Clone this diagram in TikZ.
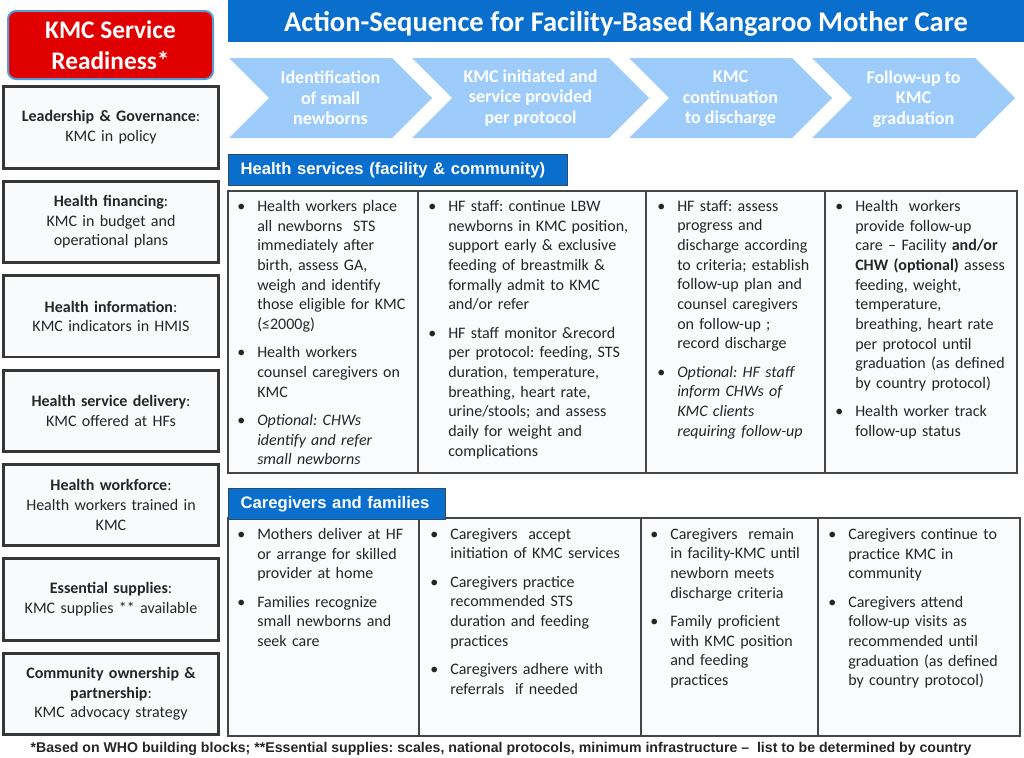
\documentclass[tikz,border=0pt]{standalone}
\usepackage{fontspec}
\setmainfont{Carlito}
\newfontfamily\arialfont{Liberation Sans}
\usetikzlibrary{positioning}
\frenchspacing
\definecolor{kmcblue}{HTML}{0A6FCC}
\definecolor{kmcchev}{HTML}{9DCCFB}
\definecolor{kmcred}{HTML}{E00000}
\definecolor{kmcrim}{HTML}{5B9BD5}
\definecolor{kmcline}{HTML}{363636}
\definecolor{kmcgrid}{HTML}{454545}
\definecolor{kmcpanel}{HTML}{F8FAFB}
\definecolor{kmccell}{HTML}{FAFBFC}
\definecolor{kmctext}{HTML}{262626}
\definecolor{kmchead}{HTML}{2F4A66}
\newcommand{\kmcbullet}{\hangindent=15pt\hangafter=1\noindent\hbox to 15pt{\textbullet\hfil}}
\newcommand{\kmcitem}{\par\kmcbullet}
\tikzset{
  readybox/.style={
    rectangle,
    rounded corners=6pt,
    draw=kmcrim,
    line width=1.5pt,
    fill=kmcred,
    text=white,
    align=center,
    minimum width=153.75pt,
    minimum height=51pt,
    font=\bfseries\fontsize{19}{23.2}\selectfont
  },
  blockbox/.style={
    rectangle,
    draw=kmcline,
    line width=2.2pt,
    fill=kmcpanel,
    align=center,
    text width=155pt,
    minimum width=161pt,
    minimum height=61pt,
    inner sep=0pt,
    text=kmctext,
    font=\fontsize{12}{14.8}\selectfont
  },
  titlebar/.style={
    rectangle,
    fill=kmcblue,
    text=white,
    text depth=0pt,
    minimum width=597pt,
    minimum height=31.5pt,
    font=\bfseries\fontsize{21.4}{25}\selectfont
  },
  stagelabel/.style={text=white, align=center, font=\bfseries\fontsize{13.5}{15.4}\selectfont},
  sectionhead/.style={
    rectangle,
    draw=kmchead,
    line width=0.8pt,
    fill=kmcblue,
    text=white,
    align=left,
    inner xsep=9pt,
    inner ysep=0pt,
    minimum height=23.25pt,
    anchor=north west,
    font=\arialfont\bfseries\fontsize{12.5}{14}\selectfont
  },
  celltext/.style={
    anchor=north west,
    inner sep=0pt,
    text width=165pt,
    align=left,
    text=kmctext,
    font=\fontsize{12}{14.75}\selectfont,
    execute at begin node={\setlength{\parskip}{6.5pt}}
  },
  gridline/.style={draw=kmcgrid, line width=1.4pt}
}
\begin{document}
\begin{tikzpicture}[x=0.75pt, y=-0.75pt, node distance=7.6pt]
\useasboundingbox (0,0) rectangle (1024,757);
\node[titlebar] (title) at (626,21) {Action-Sequence for Facility-Based Kangaroo Mother Care};
\node[readybox] (ready) at (110.5,45) {KMC Service\\Readiness*};
\node[blockbox] (lead) at (111,127.5) {\textbf{Leadership \& Governance}:\\KMC in policy};
\node[blockbox, below=of lead] (fin) {\textbf{Health financing}:\\KMC in budget and\\operational plans};
\node[blockbox, below=of fin] (info) {\textbf{Health information}:\\KMC indicators in HMIS};
\node[blockbox, below=of info] (deliv) {\textbf{Health service delivery}:\\KMC offered at HFs};
\node[blockbox, below=of deliv] (work) {\textbf{Health workforce}:\\Health workers trained in\\KMC};
\node[blockbox, below=of work] (supp) {\textbf{Essential supplies}:\\KMC supplies ** available};
\node[blockbox, below=of supp] (comm) {\textbf{Community ownership \&}\\\textbf{partnership}:\\KMC advocacy strategy};
\foreach \sx/\sw in {229/203, 412/237, 629/203, 812/203}
  \fill[kmcchev] (\sx,58) -- ({\sx+\sw-40},58) -- ({\sx+\sw},98) -- ({\sx+\sw-40},138) -- (\sx,138) -- ({\sx+40},98) -- cycle;
\node[stagelabel] (ident) at (330.5,98) {Identification\\of small\\newborns};
\node[stagelabel] (init) at (530.5,98) {KMC initiated and\\service provided\\per protocol};
\node[stagelabel] (cont) at (730.5,99) {KMC\\continuation\\to discharge};
\node[stagelabel] (follow) at (913.5,99) {Follow-up to\\KMC\\graduation};
\draw[gridline, fill=kmccell] (228,191) rectangle (1017,473);
\foreach \cx in {418,646,825}
  \draw[gridline] (\cx,191) -- (\cx,473);
\draw[gridline, fill=kmccell] (228,518) rectangle (1020,736);
\foreach \cx in {419,641,818}
  \draw[gridline] (\cx,518) -- (\cx,736);
\node[sectionhead, text width=236.25pt] (hshead) at (228,154) {Health services (facility \& community)};
\node[sectionhead, text width=144.75pt] (cghead) at (228,488) {Caregivers and families};
\node[celltext] (hsa) at (237,200) {%
\kmcbullet Health workers place\newline all newborns\ \ STS\newline immediately after\newline birth, assess GA,\newline weigh and identify\newline those eligible for KMC\newline (≤2000g)
\kmcitem Health workers\newline counsel caregivers on\newline KMC
\kmcitem \textit{Optional: CHWs\newline identify and refer\newline small newborns}\par};
\node[celltext] (hsb) at (428,200) {%
\kmcbullet HF staff: continue LBW\newline newborns in KMC position,\newline support early \& exclusive\newline feeding of breastmilk \&\newline formally admit to KMC\newline and/or refer
\kmcitem HF staff monitor \&record\newline per protocol: feeding, STS\newline duration, temperature,\newline breathing, heart rate,\newline urine/stools; and assess\newline daily for weight and\newline complications\par};
\node[celltext] (hsc) at (657,200) {%
\kmcbullet HF staff: assess\newline progress and\newline discharge according\newline to criteria; establish\newline follow-up plan and\newline counsel caregivers\newline on follow-up ;\newline record discharge
\kmcitem \textit{Optional: HF staff\newline inform CHWs of\newline KMC clients\newline requiring follow-up}\par};
\node[celltext] (hsd) at (835,200) {%
\kmcbullet Health\ \ workers\newline provide follow-up\newline care – Facility \textbf{and/or}\newline \textbf{CHW (optional)} assess\newline feeding, weight,\newline temperature,\newline breathing, heart rate\newline per protocol until\newline graduation (as defined\newline by country protocol)
\kmcitem Health worker track\newline follow-up status\par};
\node[celltext] (cga) at (237,528) {%
\kmcbullet Mothers deliver at HF\newline or arrange for skilled\newline provider at home
\kmcitem Families recognize\newline small newborns and\newline seek care\par};
\node[celltext] (cgb) at (430,528) {%
\kmcbullet Caregivers\ \ accept\newline initiation of KMC services
\kmcitem Caregivers practice\newline recommended STS\newline duration and feeding\newline practices
\kmcitem Caregivers adhere with\newline referrals\ \ if needed\par};
\node[celltext] (cgc) at (650,528) {%
\kmcbullet Caregivers\ \ remain\newline in facility-KMC until\newline newborn meets\newline discharge criteria
\kmcitem Family proficient\newline with KMC position\newline and feeding\newline practices\par};
\node[celltext] (cgd) at (828,528) {%
\kmcbullet Caregivers continue to\newline practice KMC in\newline community
\kmcitem Caregivers attend\newline follow-up visits as\newline recommended until\newline graduation (as defined\newline by country protocol)\par};
\node[text=kmctext, font=\arialfont\bfseries\fontsize{10.6}{12}\selectfont] (note) at (501,749) {*Based on WHO building blocks; **Essential supplies: scales, national protocols, minimum infrastructure –\ \ list to be determined by country};
\end{tikzpicture}
\end{document}
